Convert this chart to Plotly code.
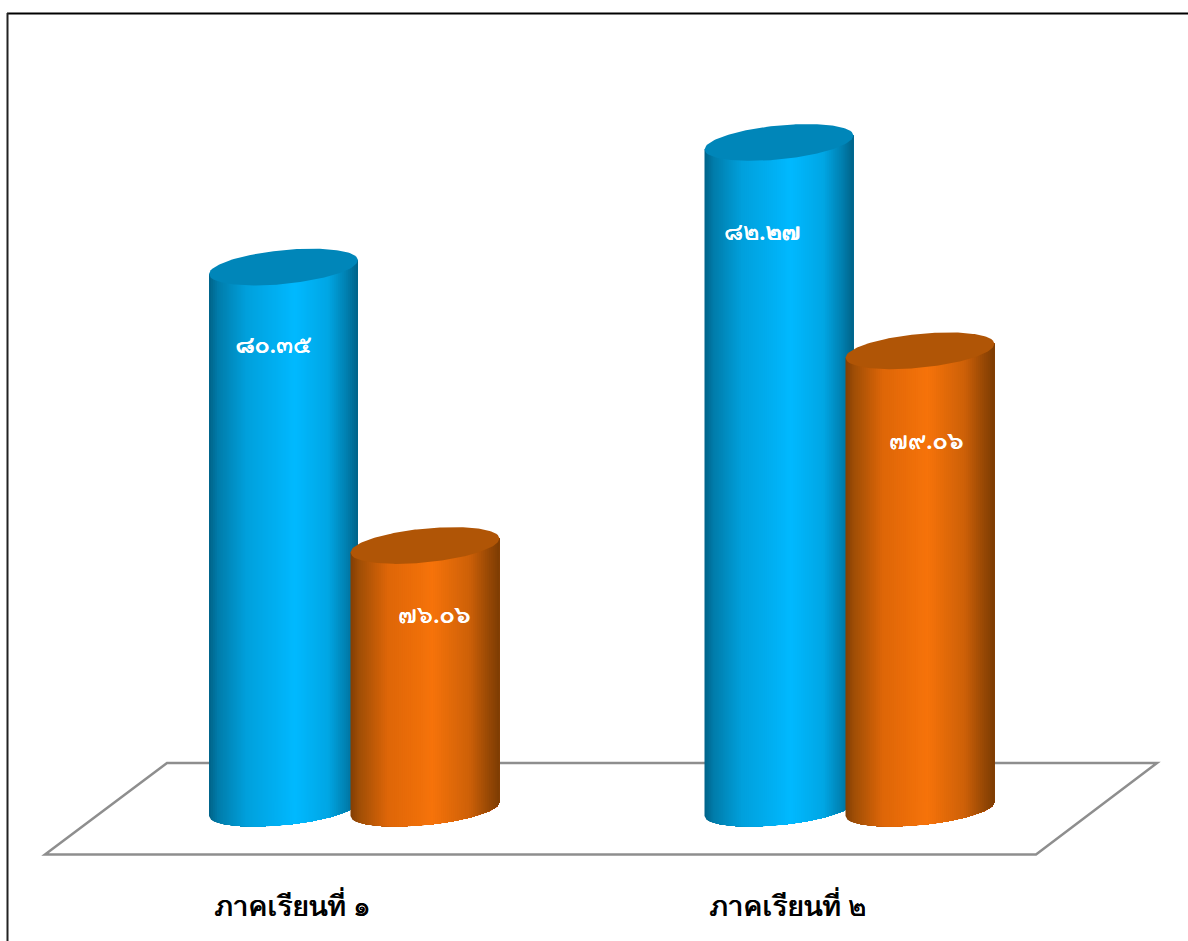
import plotly.graph_objects as go

semesters = ["ภาคเรียนที่ ๑", "ภาคเรียนที่ ๒"]
blue_values = [80.35, 82.27]
orange_values = [76.06, 79.06]
blue_labels = ["๘๐.๓๕", "๘๒.๒๗"]
orange_labels = ["๗๖.๐๖", "๗๙.๐๖"]

W, H = 1188, 941
PLOT_H = 880
BASE_PX = 809
PX_PER_UNIT = 64.9
AXIS_MIN = 72.0


def dv(px):
    return px / PX_PER_UNIT


def lerp_stops(stops, u):
    for (a, ca), (b, cb) in zip(stops, stops[1:]):
        if u <= b:
            f = (u - a) / (b - a)
            return "rgb(%d,%d,%d)" % tuple(round(x + (y - x) * f) for x, y in zip(ca, cb))
    return "rgb(%d,%d,%d)" % stops[-1][1]


BLUE_STOPS = [(0, (0, 98, 136)), (0.06, (0, 124, 170)), (0.25, (0, 160, 220)),
              (0.58, (0, 185, 255)), (0.8, (0, 166, 228)), (0.93, (0, 125, 172)), (1, (0, 98, 136))]
ORANGE_STOPS = [(0, (130, 62, 4)), (0.06, (160, 78, 6)), (0.25, (222, 102, 8)),
                (0.55, (246, 115, 10)), (0.8, (205, 96, 8)), (0.93, (150, 72, 5)), (1, (125, 60, 3))]
BLUE_TOP = "#0086b9"
ORANGE_TOP = "#b05506"

A = 74.5
K = 7.0
B = 17.0
B_BOTTOM = 16.0
N = 74

fig = go.Figure()


def cylinder(cx, value, stops, top_color):
    # each band runs from its left edge to the far right, so later bands paint over earlier ones
    us = [-1 + 2 * j / N for j in range(N + 1)]
    for i in range(N):
        sub = us[i:]
        xs = [cx + A * u for u in sub] + [cx + A * u for u in reversed(sub)]
        ys = [value + dv(K) * u for u in sub]
        ys += [AXIS_MIN + dv(K) * u - dv(B_BOTTOM) * max(0, 1 - u * u) ** 0.5 for u in reversed(sub)]
        col = lerp_stops(stops, (i + 0.5) / N)
        fig.add_trace(go.Scatter(x=xs, y=ys, mode="lines", fill="toself", fillcolor=col,
                                 line=dict(width=0), hoverinfo="skip", showlegend=False))
    ex, ey = [], []
    M = 90
    for i in range(M + 1):
        u = -1 + 2 * i / M
        ex.append(cx + A * u)
        ey.append(value + dv(K) * u + dv(B) * max(0, 1 - u * u) ** 0.5)
    for i in range(M, -1, -1):
        u = -1 + 2 * i / M
        ex.append(cx + A * u)
        ey.append(value + dv(K) * u - dv(B) * max(0, 1 - u * u) ** 0.5)
    fig.add_trace(go.Scatter(x=ex, y=ey, mode="lines", fill="toself", fillcolor=top_color,
                             line=dict(width=0), hoverinfo="skip", showlegend=False))


BLUE_CX = [283.5, 779]
ORANGE_CX = [425, 920]
BLUE_LABEL_DX = [-10, -17]
BLUE_LABEL_DY = [80, 91]
ORANGE_LABEL_DX = [9, 6]
ORANGE_LABEL_DY = [71, 92]
LABEL_FONT = dict(family="Noto Sans, DejaVu Sans, sans-serif", size=25, color="white",
                  shadow="0.5px 0 0 white")

for i in range(2):
    cylinder(BLUE_CX[i], blue_values[i], BLUE_STOPS, BLUE_TOP)
    cylinder(ORANGE_CX[i], orange_values[i], ORANGE_STOPS, ORANGE_TOP)

fig.add_trace(go.Scatter(
    x=[BLUE_CX[i] + BLUE_LABEL_DX[i] for i in range(2)] + [ORANGE_CX[i] + ORANGE_LABEL_DX[i] for i in range(2)],
    y=[blue_values[i] - dv(BLUE_LABEL_DY[i]) for i in range(2)] + [orange_values[i] - dv(ORANGE_LABEL_DY[i]) for i in range(2)],
    text=blue_labels + orange_labels, mode="text", textposition="middle center",
    textfont=LABEL_FONT, hoverinfo="skip", showlegend=False))


def ppx(px):
    return 1 - px / PLOT_H


shapes = [
    dict(type="path", xref="x", yref="paper", layer="below",
         path=f"M45,{ppx(854.5)} L167,{ppx(763)} L1157,{ppx(763)} L1036,{ppx(854.5)} Z",
         line=dict(color="#8e8e8e", width=2.5), fillcolor="white"),
    dict(type="line", xref="x", yref="paper", x0=7, x1=W, y0=ppx(13.5), y1=ppx(13.5),
         line=dict(color="black", width=2)),
    dict(type="line", xref="x", yref="paper", x0=7.5, x1=7.5, y0=ppx(13), y1=ppx(H),
         line=dict(color="#222222", width=2)),
]

fig.update_layout(
    width=W, height=H, margin=dict(l=0, r=0, t=0, b=H - PLOT_H),
    paper_bgcolor="white", plot_bgcolor="white", showlegend=False, shapes=shapes,
    xaxis=dict(range=[0, W], showgrid=False, zeroline=False, showline=False, ticks="",
               tickmode="array", tickvals=[292.5, 787.5], ticktext=semesters, ticklabelstandoff=7,
               tickfont=dict(family="Noto Sans, DejaVu Sans, sans-serif", size=28, color="black",
                             shadow="0.6px 0 0 black")),
    yaxis=dict(range=[AXIS_MIN - dv(PLOT_H - BASE_PX), AXIS_MIN + dv(BASE_PX)], visible=False),
)

fig.write_html("out.html", config=dict(displayModeBar=False),
               post_script="document.body.style.margin='0';document.body.style.overflow='hidden';")
